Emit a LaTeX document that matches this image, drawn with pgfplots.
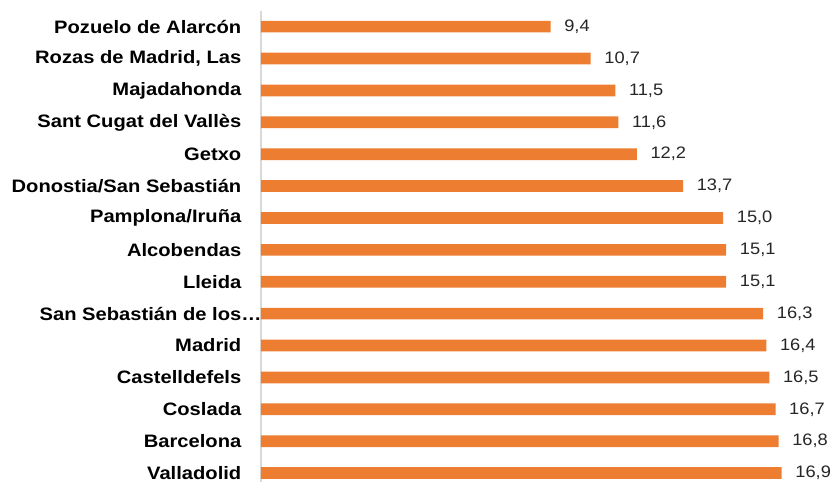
\documentclass[border=0pt]{standalone}
\usepackage{fontspec}
\setmainfont{Liberation Sans}
\newfontfamily\labelfont{Liberation Sans}[FakeStretch=1.12]
\newfontfamily\valuefont{Liberation Sans}[FakeStretch=1.1]
\usepackage{pgfplots}
\pgfplotsset{compat=1.18}
\definecolor{barorange}{HTML}{ED7D31}
\definecolor{axisgray}{HTML}{D9D9D9}
\begin{document}
\begin{tikzpicture}
\path[use as bounding box] (-261bp,0) rectangle (570bp,482bp);
\begin{axis}[
  scale only axis, width=570bp, height=471.3bp,
  at={(0,0)}, anchor=south west,
  xbar, bar width=11.7bp,
  xmin=0, xmax=18.5,
  ymin=-0.5, ymax=14.28, y dir=reverse,
  ytick={0,...,14},
  yticklabels={Pozuelo de Alarcón,{Rozas de Madrid, Las},Majadahonda,Sant Cugat del Vallès,Getxo,Donostia/San Sebastián,Pamplona/Iruña,Alcobendas,Lleida,San Sebastián de los\rlap{…},Madrid,Castelldefels,Coslada,Barcelona,Valladolid},
  axis x line=none,
  axis y line*=left,
  y axis line style={draw=axisgray, line width=1.5bp},
  major tick length=0pt,
  yticklabel style={font=\labelfont\fontsize{18bp}{22bp}\selectfont\bfseries, anchor=east, inner sep=0pt, xshift=-19.5bp, text=black},
  clip=false,
  nodes near coords,
  nodes near coords style={font=\valuefont\fontsize{16.6bp}{20bp}\selectfont, anchor=west, inner sep=0pt, xshift=13.5bp, text=black!85,
    /pgf/number format/.cd, fixed, fixed zerofill, precision=1, use comma, assume math mode=true},
]
\addplot[draw=none, fill=barorange] coordinates {
(9.4,0) (10.7,1) (11.5,2) (11.6,3) (12.2,4) (13.7,5) (15.0,6) (15.1,7) (15.1,8) (16.3,9) (16.4,10) (16.5,11) (16.7,12) (16.8,13) (16.9,14)
};
\end{axis}
\end{tikzpicture}
\end{document}
